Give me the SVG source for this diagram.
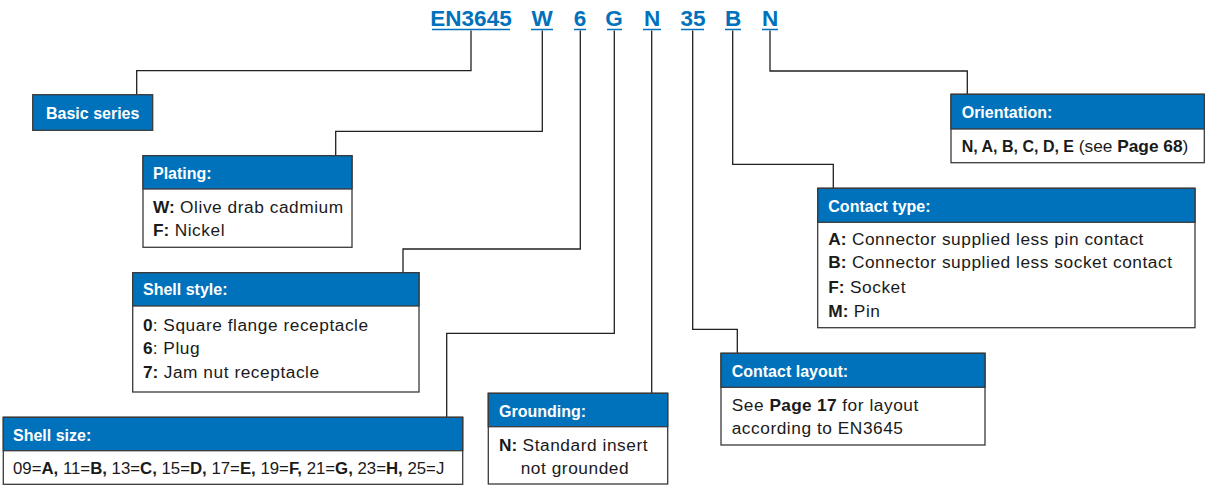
<svg xmlns="http://www.w3.org/2000/svg" width="1205" height="485" viewBox="0 0 1205 485">
<style>
.code{font-family:"Liberation Sans",Arial,sans-serif;font-weight:bold;font-size:22.5px;fill:#0071bb;text-anchor:middle}
.ul{stroke:#0071bb;stroke-width:1.5}
.box{fill:#fff;stroke:#3a3a3a;stroke-width:1.3}
.hdr{fill:#0071bb;stroke:#3a3a3a;stroke-width:1.3}
.ttl{font-family:"Liberation Sans",Arial,sans-serif;font-weight:bold;font-size:16px;fill:#fff}
.body{font-family:"Liberation Sans",Arial,sans-serif;font-size:17.3px;letter-spacing:0.55px;fill:#1a1a1a}
.b{font-weight:bold;letter-spacing:0}
.bw{font-weight:bold;letter-spacing:0.3px}
.conn{fill:none;stroke:#231f20;stroke-width:1.3}
</style>
<g id="code">
<text class="code" x="471" y="25.5">EN3645</text>
<text class="code" x="542" y="25.5">W</text>
<text class="code" x="580" y="25.5">6</text>
<text class="code" x="614" y="25.5">G</text>
<text class="code" x="652" y="25.5">N</text>
<text class="code" x="693" y="25.5">35</text>
<text class="code" x="733" y="25.5">B</text>
<text class="code" x="770" y="25.5">N</text>
<line class="ul" x1="432" y1="29.5" x2="510" y2="29.5"/>
<line class="ul" x1="531" y1="29.5" x2="553" y2="29.5"/>
<line class="ul" x1="574" y1="29.5" x2="586" y2="29.5"/>
<line class="ul" x1="607" y1="29.5" x2="622" y2="29.5"/>
<line class="ul" x1="643" y1="29.5" x2="661" y2="29.5"/>
<line class="ul" x1="681" y1="29.5" x2="704" y2="29.5"/>
<line class="ul" x1="725" y1="29.5" x2="741" y2="29.5"/>
<line class="ul" x1="762" y1="29.5" x2="778" y2="29.5"/>
</g>
<g id="connectors">
<polyline class="conn" points="471,30.5 471,70.7 136.7,70.7 136.7,94.7"/>
<polyline class="conn" points="542.3,30.5 542.3,131.3 335.7,131.3 335.7,155.7"/>
<polyline class="conn" points="580.3,30.5 580.3,249 403,249 403,272.7"/>
<polyline class="conn" points="614.3,30.5 614.3,333.3 446.7,333.3 446.7,417.3"/>
<polyline class="conn" points="651.7,30.5 651.7,393.3"/>
<polyline class="conn" points="692.7,30.5 692.7,329.3 737.3,329.3 737.3,353.3"/>
<polyline class="conn" points="732.7,30.5 732.7,164.3 833.3,164.3 833.3,188.3"/>
<polyline class="conn" points="770,30.5 770,71 967.3,71 967.3,94.3"/>
</g>
<g id="basic-series">
<rect class="hdr" x="32.7" y="94.7" width="120" height="35.6"/>
<text class="ttl" x="46" y="119.3">Basic series</text>
</g>
<g id="plating">
<rect class="box" x="143" y="155.7" width="209" height="91.6"/>
<rect class="hdr" x="143" y="155.7" width="209" height="33.3"/>
<text class="ttl" x="153" y="178.8">Plating:</text>
<text class="body" x="153" y="212.7"><tspan class="b">W:</tspan> Olive drab cadmium</text>
<text class="body" x="153" y="236"><tspan class="b">F:</tspan> Nickel</text>
</g>
<g id="shell-style">
<rect class="box" x="132.7" y="272.7" width="286.3" height="119.3"/>
<rect class="hdr" x="132.7" y="272.7" width="286.3" height="33.3"/>
<text class="ttl" x="143" y="295.3">Shell style:</text>
<text class="body" x="143" y="330.7"><tspan class="b">0</tspan>: Square flange receptacle</text>
<text class="body" x="143" y="354"><tspan class="b">6</tspan>: Plug</text>
<text class="body" x="143" y="378"><tspan class="b">7:</tspan> Jam nut receptacle</text>
</g>
<g id="shell-size">
<rect class="box" x="3.3" y="417.3" width="459.4" height="67"/>
<rect class="hdr" x="3.3" y="417.3" width="459.4" height="33.4"/>
<text class="ttl" x="13" y="440.8">Shell size:</text>
<text class="body" x="13" y="474.3" style="font-size:16.8px;letter-spacing:0">09=<tspan class="b">A,</tspan> 11=<tspan class="b">B,</tspan> 13=<tspan class="b">C,</tspan> 15=<tspan class="b">D,</tspan> 17=<tspan class="b">E,</tspan> 19=<tspan class="b">F,</tspan> 21=<tspan class="b">G,</tspan> 23=<tspan class="b">H,</tspan> 25=J</text>
</g>
<g id="grounding">
<rect class="box" x="488.3" y="393.3" width="179.4" height="90.7"/>
<rect class="hdr" x="488.3" y="393.3" width="179.4" height="33.4"/>
<text class="ttl" x="499" y="416.5">Grounding:</text>
<text class="body" x="499" y="450.7"><tspan class="b">N:</tspan> Standard insert</text>
<text class="body" x="520.7" y="474.3">not grounded</text>
</g>
<g id="contact-layout">
<rect class="box" x="721" y="353.3" width="264" height="91.7"/>
<rect class="hdr" x="721" y="353.3" width="264" height="34"/>
<text class="ttl" x="731.7" y="376.5">Contact layout:</text>
<text class="body" x="731.7" y="411">See <tspan class="bw">Page 17</tspan> for layout</text>
<text class="body" x="731.7" y="434.3">according to EN3645</text>
</g>
<g id="contact-type">
<rect class="box" x="817.7" y="188.3" width="377.3" height="139.4"/>
<rect class="hdr" x="817.7" y="188.3" width="377.3" height="34"/>
<text class="ttl" x="828.3" y="211.5">Contact type:</text>
<text class="body" x="828.3" y="245"><tspan class="b">A:</tspan> Connector supplied less pin contact</text>
<text class="body" x="828.3" y="268.3"><tspan class="b">B:</tspan> Connector supplied less socket contact</text>
<text class="body" x="828.3" y="293.3"><tspan class="b">F:</tspan> Socket</text>
<text class="body" x="828.3" y="316.7"><tspan class="b">M:</tspan> Pin</text>
</g>
<g id="orientation">
<rect class="box" x="951" y="94.3" width="253.3" height="68.4"/>
<rect class="hdr" x="951" y="94.3" width="253.3" height="34.7"/>
<text class="ttl" x="961.7" y="118.1">Orientation:</text>
<text class="body" x="961.7" y="151.7" style="letter-spacing:0"><tspan class="b" style="font-size:16px">N, A, B, C, D, E</tspan> (see <tspan class="b">Page 68</tspan>)</text>
</g>
</svg>
